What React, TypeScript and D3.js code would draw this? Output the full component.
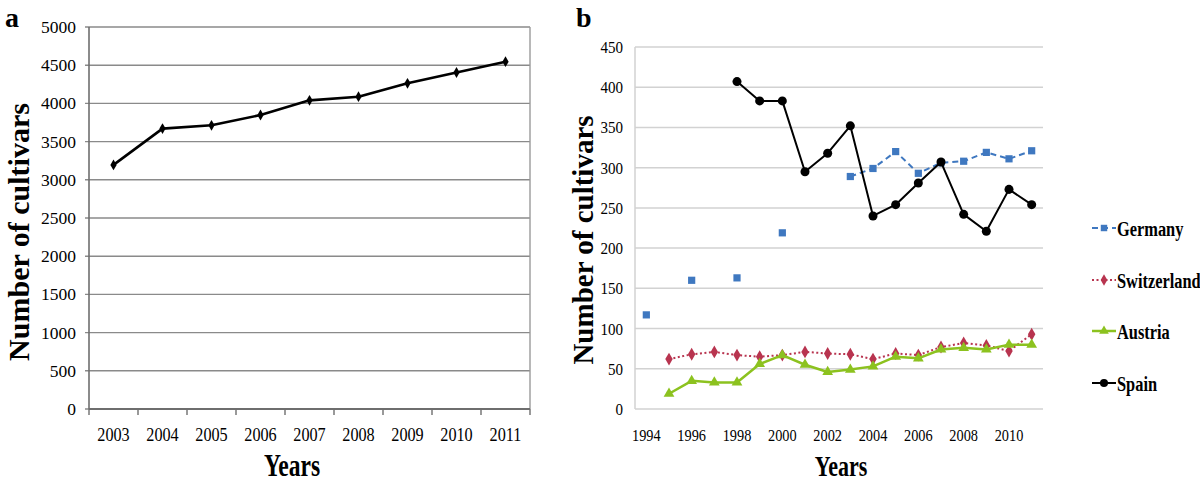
import React from "react";
import * as d3 from "d3";

// Panel a data
const yearsA = ["2003", "2004", "2005", "2006", "2007", "2008", "2009", "2010", "2011"];
const cultivarsA = [3195, 3670, 3713, 3848, 4040, 4088, 4263, 4405, 4546];
const yTicksA = [0, 500, 1000, 1500, 2000, 2500, 3000, 3500, 4000, 4500, 5000];

// Panel b data
const yearsB = [
  "1994", "1995", "1996", "1997", "1998", "1999", "2000", "2001", "2002",
  "2003", "2004", "2005", "2006", "2007", "2008", "2009", "2010", "2011",
];
const germany: (number | null)[] = [
  117, null, 160, null, 163, null, 219, null, null,
  289, 299, 320, 293, 306, 308, 319, 311, 321,
];
const switzerland: (number | null)[] = [
  null, 62, 68, 71, 67, 65, 67, 71, 69,
  68, 62, 69, 67, 77, 82, 79, 72, 93,
];
const austria: (number | null)[] = [
  null, 19, 35, 33, 33, 56, 67, 55, 46,
  49, 53, 65, 63, 74, 76, 74, 80, 80,
];
const spain: (number | null)[] = [
  null, null, null, null, 407, 383, 383, 295, 318,
  352, 240, 254, 281, 307, 242, 221, 273, 254,
];
const yTicksB = [0, 50, 100, 150, 200, 250, 300, 350, 400, 450];
const xTickLabelsB = ["1994", "1996", "1998", "2000", "2002", "2004", "2006", "2008", "2010"];

const FONT = "'Liberation Serif', 'Times New Roman', serif";

type Series = {
  name: string;
  values: (number | null)[];
  color: string;
  dash: string | undefined;
  width: number;
  symbol: d3.SymbolType;
  size: number;
};

const seriesB: Series[] = [
  { name: "Germany", values: germany, color: "#3f78c0", dash: "6,4", width: 2, symbol: d3.symbolSquare, size: 52 },
  { name: "Switzerland", values: switzerland, color: "#b8344f", dash: "2,2.5", width: 2, symbol: d3.symbolDiamond, size: 48 },
  { name: "Austria", values: austria, color: "#8cc21f", dash: undefined, width: 2.5, symbol: d3.symbolTriangle, size: 50 },
  { name: "Spain", values: spain, color: "#000000", dash: undefined, width: 2, symbol: d3.symbolCircle, size: 64 },
];

function T(props: {
  x: number; y: number; size: number; sx?: number; anchor?: string; bold?: boolean; rotate?: number; children: React.ReactNode;
}) {
  const { x, y, size, sx = 1, anchor = "middle", bold = false, rotate = 0, children } = props;
  return (
    <text
      transform={`translate(${x},${y}) rotate(${rotate}) scale(${sx},1)`}
      fontFamily={FONT}
      fontSize={size}
      fontWeight={bold ? "bold" : "normal"}
      textAnchor={anchor}
      fill="#000"
    >
      {children}
    </text>
  );
}

function PanelA() {
  const left = 89, right = 530, top = 27, bottom = 409;
  const x = d3.scaleBand().domain(yearsA).range([left, right]).padding(0);
  const y = d3.scaleLinear().domain([0, 5000]).range([bottom, top]);
  const cx = (yr: string) => (x(yr) as number) + x.bandwidth() / 2;
  const line = d3.line<number>().x((_, i) => cx(yearsA[i])).y((d) => y(d));
  const diamond = d3.symbol().type(d3.symbolDiamond).size(34)();
  const bounds = [...yearsA.map((yr) => x(yr) as number), right];
  return (
    <g>
      <T x={5} y={27} size={28} bold anchor="start">a</T>
      {yTicksA.map((t) => (
        <g key={t}>
          <line x1={left - 4} x2={right} y1={y(t)} y2={y(t)} stroke="#8a8a8a" strokeWidth={1.4} />
          <T x={76} y={y(t) + 6} size={17.5} anchor="end">{t}</T>
        </g>
      ))}
      <line x1={left} x2={left} y1={top} y2={bottom} stroke="#6e6e6e" strokeWidth={1.6} />
      <line x1={right} x2={right} y1={top} y2={bottom} stroke="#9a9a9a" strokeWidth={1.4} />
      <line x1={left} x2={right} y1={bottom} y2={bottom} stroke="#6e6e6e" strokeWidth={1.8} />
      {bounds.map((b, i) => (
        <line key={i} x1={b} x2={b} y1={bottom} y2={bottom + 6} stroke="#6e6e6e" strokeWidth={1.4} />
      ))}
      {yearsA.map((yr) => (
        <T key={yr} x={cx(yr)} y={441} size={18} sx={0.9}>{yr}</T>
      ))}
      <path d={line(cultivarsA) as string} fill="none" stroke="#000" strokeWidth={2.6} strokeLinejoin="round" />
      {cultivarsA.map((v, i) => (
        <path key={i} d={diamond as string} transform={`translate(${cx(yearsA[i])},${y(v)})`} fill="#000" />
      ))}
      <T x={29} y={232} size={30} bold rotate={-90}>Number of cultivars</T>
      <T x={292} y={476} size={31} bold sx={0.76}>Years</T>
    </g>
  );
}

function PanelB() {
  const left = 635, right = 1043, top = 47, bottom = 409;
  const x = d3.scaleBand().domain(yearsB).range([left, right]).padding(0);
  const y = d3.scaleLinear().domain([0, 450]).range([bottom, top]);
  const cx = (yr: string) => (x(yr) as number) + x.bandwidth() / 2;
  const legendY = [228, 280, 331, 383];
  return (
    <g>
      <T x={576} y={27} size={28} bold anchor="start">b</T>
      {yTicksB.map((t) => (
        <g key={t}>
          <line x1={left} x2={right} y1={y(t)} y2={y(t)} stroke="#d2d2d2" strokeWidth={1.5} />
          <T x={623} y={y(t) + 6} size={17.5} sx={0.86} anchor="end">{t}</T>
        </g>
      ))}
      <line x1={left} x2={left} y1={top} y2={bottom} stroke="#d2d2d2" strokeWidth={1.5} />
      {xTickLabelsB.map((yr) => (
        <T key={yr} x={cx(yr)} y={441} size={17.5} sx={0.82}>{yr}</T>
      ))}
      {seriesB.map((s) => {
        const line = d3
          .line<number | null>()
          .defined((d) => d !== null)
          .x((_, i) => cx(yearsB[i]))
          .y((d) => y(d as number));
        const sym = d3.symbol().type(s.symbol).size(s.size)();
        return (
          <g key={s.name}>
            <path
              d={line(s.values) as string}
              fill="none"
              stroke={s.color}
              strokeWidth={s.width}
              strokeDasharray={s.dash}
              strokeLinejoin="round"
            />
            {s.values.map((v, i) =>
              v === null ? null : (
                <path
                  key={i}
                  d={sym as string}
                  transform={`translate(${cx(yearsB[i])},${y(v)})`}
                  fill={s.color}
                />
              )
            )}
          </g>
        );
      })}
      {seriesB.map((s, i) => {
        const ly = legendY[i];
        const sym = d3.symbol().type(s.symbol).size(s.size * 0.8)();
        return (
          <g key={s.name}>
            <line x1={1092} x2={1116} y1={ly} y2={ly} stroke={s.color} strokeWidth={s.width} strokeDasharray={s.dash} />
            <path d={sym as string} transform={`translate(1104,${ly})`} fill={s.color} />
            <T x={1117} y={ly + 8} size={20} sx={0.82} bold anchor="start">{s.name}</T>
          </g>
        );
      })}
      <T x={593} y={240} size={29} bold rotate={-90}>Number of cultivars</T>
      <T x={841} y={476} size={29} bold sx={0.76}>Years</T>
    </g>
  );
}

export default function App() {
  return (
    <svg
      width={1200}
      height={482}
      viewBox="0 0 1200 482"
      style={{ position: "absolute", left: 0, top: 0, background: "#fff" }}
    >
      <rect x={0} y={0} width={1200} height={482} fill="#fff" />
      <PanelA />
      <PanelB />
    </svg>
  );
}
